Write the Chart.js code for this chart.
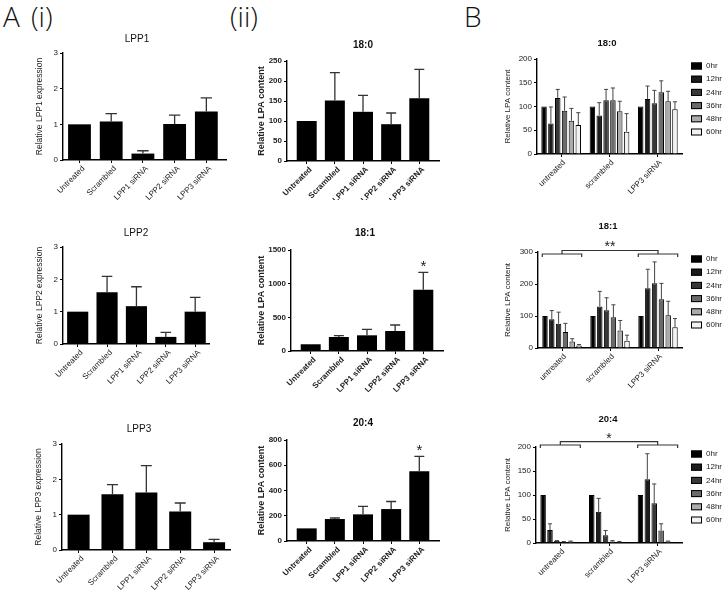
<!DOCTYPE html>
<html><head><meta charset="utf-8">
<script src="https://cdn.jsdelivr.net/npm/chart.js@4.4.1/dist/chart.umd.min.js"></script>
<style>
html,body{margin:0;padding:0;background:#fff;}
#page{position:relative;width:725px;height:592px;overflow:hidden;background:#fff;}
#page canvas{position:absolute;}
.plabel{position:absolute;font-family:"Open Sans",sans-serif;font-size:28px;font-weight:300;color:#111;line-height:28px;white-space:nowrap;}
</style></head><body>
<div id="page">
<div class="plabel" style="left:3px;top:2px">A</div>
<div class="plabel" style="left:31px;top:2px">(i)</div>
<div class="plabel" style="left:230px;top:2px">(ii)</div>
<div class="plabel" style="left:464px;top:2px">B</div>
</div>
<script>
// ---------- data ----------
const groupsA = ['Untreated', 'Scrambled', 'LPP1 siRNA', 'LPP2 siRNA', 'LPP3 siRNA'];
const lpp1Mean = [1.00, 1.08, 0.18, 1.01, 1.36];
const lpp1Sem  = [0, 0.22, 0.08, 0.25, 0.38];
const lpp2Mean = [1.00, 1.60, 1.17, 0.22, 1.00];
const lpp2Sem  = [0, 0.49, 0.60, 0.14, 0.44];
const lpp3Mean = [1.00, 1.58, 1.63, 1.09, 0.22];
const lpp3Sem  = [0, 0.27, 0.76, 0.24, 0.08];

const lpa180Mean = [100, 151, 123, 92, 157];
const lpa180Sem  = [0, 70, 41, 28, 72];
const lpa181Mean = [100, 208, 233, 297, 911];
const lpa181Sem  = [0, 20, 89, 89, 257];
const lpa181Stars = ['', '', '', '', '*'];
const lpa204Mean = [100, 174, 211, 253, 553];
const lpa204Sem  = [0, 8, 63, 60, 118];
const lpa204Stars = ['', '', '', '', '*'];

const groupsB = ['untreated', 'scrambled', 'LPP3 siRNA'];
const timePoints = ['0hr', '12hr', '24hr', '36hr', '48hr', '60hr'];
// rows: time points, columns: groupsB
const b180Mean = [[100,100,100],[64,81,116],[118,113,107],[91,113,130],[70,90,111],[61,47,94]];
const b180Sem  = [[0,0,0],[35,27,27],[18,23,27],[29,26,24],[26,21,21],[26,38,16]];
const b181Mean = [[100,100,100],[90,130,187],[76,118,202],[50,96,152],[20,55,102],[8,23,65]];
const b181Sem  = [[0,0,0],[27,47,59],[36,39,67],[27,39,50],[9,31,44],[3,17,27]];
const b181Sig  = [{from: 0, to: 2, label: '**'}];
const b204Mean = [[100,100,100],[27,65,133],[4,16,83],[2,3,26],[3,2,3],[1,1,1]];
const b204Sem  = [[0,0,0],[13,28,53],[1,10,40],[1,2,14],[1,1,1],[0,0,0]];
const b204Sig  = [{from: 0, to: 2, label: '*'}];

// ---------- styles ----------
const FONT = '"Liberation Sans", Arial, sans-serif';
const timeColors = ['#000000', '#1c1c1c', '#383838', '#6a6a6a', '#ababab', '#f2f2f2'];

function makeDeco(spec, box) {
  const ox = box.x, oy = box.y;
  return {
    id: 'deco',
    afterDraw(chart) {
      const ctx = chart.ctx, ca = chart.chartArea, ys = chart.scales.y;
      ctx.save();
      // error bars
      chart.data.datasets.forEach((ds, di) => {
        const meta = chart.getDatasetMeta(di);
        meta.data.forEach((bar, i) => {
          const s = ds.sem[i];
          if (!s) return;
          const tip = ys.getPixelForValue(ds.mean[i] + s);
          const half = bar.width * spec.capRatio / 2;
          ctx.strokeStyle = spec.errColor;
          ctx.lineWidth = spec.errWidth;
          ctx.beginPath();
          ctx.moveTo(bar.x, bar.y); ctx.lineTo(bar.x, tip);
          ctx.moveTo(bar.x - half, tip); ctx.lineTo(bar.x + half, tip);
          ctx.stroke();
          if (ds.stars && ds.stars[i]) {
            ctx.fillStyle = '#222';
            ctx.font = 'normal 15px ' + FONT;
            ctx.textAlign = 'center'; ctx.textBaseline = 'middle';
            ctx.fillText(ds.stars[i], bar.x, tip - 5);
          }
        });
      });
      // brackets
      if (spec.brackets) {
        const m0 = chart.getDatasetMeta(0), mN = chart.getDatasetMeta(chart.data.datasets.length - 1);
        const ext = g => [m0.data[g].x - m0.data[g].width / 2, mN.data[g].x + mN.data[g].width / 2];
        spec.brackets.forEach(br => {
          const a = ext(br.from), b = ext(br.to);
          const subY = ca.top + spec.bracketSub, topY = ca.top + spec.bracketTop, tk = subY + 3;
          const ac = (a[0] + a[1]) / 2, bc = (b[0] + b[1]) / 2;
          ctx.strokeStyle = '#333'; ctx.lineWidth = 1.2;
          ctx.beginPath();
          ctx.moveTo(a[0], tk); ctx.lineTo(a[0], subY); ctx.lineTo(a[1], subY); ctx.lineTo(a[1], tk);
          ctx.moveTo(b[0], tk); ctx.lineTo(b[0], subY); ctx.lineTo(b[1], subY); ctx.lineTo(b[1], tk);
          ctx.moveTo(ac, subY); ctx.lineTo(ac, topY); ctx.lineTo(bc, topY); ctx.lineTo(bc, subY);
          ctx.stroke();
          ctx.fillStyle = '#222';
          ctx.font = 'normal 14px ' + FONT;
          ctx.textAlign = 'center'; ctx.textBaseline = 'middle';
          ctx.fillText(br.label, (ac + bc) / 2, topY - 3);
        });
      }
      // chart title
      ctx.fillStyle = '#111';
      ctx.font = spec.titleFont + ' ' + FONT;
      ctx.textAlign = 'center'; ctx.textBaseline = 'middle';
      ctx.fillText(spec.title.text, spec.title.x - ox, spec.title.y - oy);
      // y axis title
      ctx.save();
      ctx.translate(spec.ytitle.x - ox, (ca.top + ca.bottom) / 2);
      ctx.rotate(-Math.PI / 2);
      ctx.font = spec.ytitleFont + ' ' + FONT;
      ctx.fillStyle = '#222';
      ctx.fillText(spec.ytitle.text, 0, 0);
      ctx.restore();
      // legend
      if (spec.legend) {
        const L = spec.legend;
        chart.data.datasets.forEach((ds, di) => {
          const cy = L.y0 + di * L.dy - oy;
          ctx.fillStyle = ds.backgroundColor;
          ctx.fillRect(L.x - ox, cy - 3.5, 11, 7);
          ctx.strokeStyle = '#000'; ctx.lineWidth = 1;
          ctx.strokeRect(L.x - ox + 0.5, cy - 3.5 + 0.5, 10, 6);
          ctx.fillStyle = '#222';
          ctx.font = 'normal 8px ' + FONT;
          ctx.textAlign = 'left'; ctx.textBaseline = 'middle';
          ctx.fillText(ds.label, L.x - ox + 15, cy);
        });
      }
      ctx.restore();
    }
  };
}

function build(spec) {
  const b = spec.box, a = spec.area;
  const c = document.createElement('canvas');
  c.width = b.w; c.height = b.h;
  c.style.left = b.x + 'px'; c.style.top = b.y + 'px';
  c.style.width = b.w + 'px'; c.style.height = b.h + 'px';
  document.getElementById('page').appendChild(c);
  const yw = a.l - b.x, pr = b.x + b.w - a.r, pt = a.t - b.y, xh = b.y + b.h - a.b;
  const weight = spec.bold ? 'bold' : 'normal';
  const tickFont = {family: FONT, size: 8, weight: weight};
  const gridCfg = {drawOnChartArea: false, drawTicks: true, tickLength: 3, color: '#000', lineWidth: 1};
  const borderCfg = {display: true, color: '#000', width: 1.4};
  let xScale, data;
  if (spec.linear) {
    xScale = {
      type: 'linear', min: spec.xmin, max: spec.xmax, offset: false,
      afterBuildTicks: s => { s.ticks = spec.labels.map((_, i) => ({value: i})); },
      afterFit: s => { s.height = xh; },
      ticks: {callback: v => spec.labels[v] ?? '', maxRotation: 45, minRotation: 45, autoSkip: false,
              padding: 1, labelOffset: 4, font: tickFont, color: '#222'},
      grid: Object.assign({offset: false}, gridCfg), border: borderCfg
    };
    data = {datasets: [{
      data: spec.mean.map((v, i) => ({x: i, y: v})), mean: spec.mean, sem: spec.sem, stars: spec.stars,
      backgroundColor: '#000', borderWidth: 0, barPercentage: spec.barPct, categoryPercentage: 1
    }]};
  } else {
    xScale = {
      type: 'category', offset: true,
      afterFit: s => { s.height = xh; },
      ticks: {maxRotation: 45, minRotation: 45, autoSkip: false, padding: 1, labelOffset: 3, font: tickFont, color: '#222'},
      grid: Object.assign({offset: false}, gridCfg), border: borderCfg
    };
    data = {labels: spec.labels, datasets: timePoints.map((t, k) => ({
      label: t, data: spec.mean[k], mean: spec.mean[k], sem: spec.sem[k],
      backgroundColor: timeColors[k], borderColor: '#000', borderWidth: 1, borderSkipped: 'bottom',
      barPercentage: 0.8, categoryPercentage: 0.85
    }))};
  }
  new Chart(c, {
    type: 'bar',
    data: data,
    options: {
      responsive: false, animation: false, devicePixelRatio: 1,
      layout: {padding: {top: pt, right: pr, left: 0, bottom: 0}},
      plugins: {legend: {display: false}, tooltip: {enabled: false}, title: {display: false}},
      scales: {
        x: xScale,
        y: {min: 0, max: spec.ymax, afterFit: s => { s.width = yw; },
            ticks: {stepSize: spec.ystep, font: tickFont, color: '#222', padding: 2, callback: v => String(v)},
            grid: gridCfg, border: borderCfg}
      }
    },
    plugins: [makeDeco(spec.deco, b)]
  });
}

const decoA = (title, tx, ty, ytitle, yx) => ({
  capRatio: 0.5, errColor: '#333', errWidth: 1.3,
  title: {text: title, x: tx, y: ty}, titleFont: 'normal 10px',
  ytitle: {text: ytitle, x: yx}, ytitleFont: 'normal 8.5px'
});
const decoA2 = (title, tx, ty) => ({
  capRatio: 0.5, errColor: '#333', errWidth: 1.3,
  title: {text: title, x: tx, y: ty}, titleFont: 'bold 10px',
  ytitle: {text: 'Relative LPA content', x: 262}, ytitleFont: 'bold 9px'
});
const decoB = (title, tx, ty, y0, extra) => Object.assign({
  capRatio: 0.75, errColor: '#444', errWidth: 1,
  title: {text: title, x: tx, y: ty}, titleFont: 'bold 9.5px',
  ytitle: {text: 'Relative LPA content', x: 508}, ytitleFont: 'normal 8px',
  legend: {x: 691, y0: y0, dy: 13.2}
}, extra || {});

// A (i)
build({box: {x: 0, y: 28, w: 240, h: 172}, area: {l: 63, r: 226, t: 53, b: 160}, linear: true, labels: groupsA,
  xmin: -0.52, xmax: 4.62, ymax: 3, ystep: 1, mean: lpp1Mean, sem: lpp1Sem, barPct: 0.72,
  deco: decoA('LPP1', 137, 39, 'Relative LPP1 expression', 40)});
build({box: {x: 0, y: 220, w: 240, h: 172}, area: {l: 63, r: 209, t: 247, b: 344}, linear: true, labels: groupsA,
  xmin: -0.5, xmax: 4.47, ymax: 3, ystep: 1, mean: lpp2Mean, sem: lpp2Sem, barPct: 0.72,
  deco: decoA('LPP2', 136, 233, 'Relative LPP2 expression', 40)});
build({box: {x: 0, y: 416, w: 240, h: 176}, area: {l: 62, r: 230, t: 444, b: 550}, linear: true, labels: groupsA,
  xmin: -0.49, xmax: 4.47, ymax: 3, ystep: 1, mean: lpp3Mean, sem: lpp3Sem, barPct: 0.65,
  deco: decoA('LPP3', 139, 429, 'Relative LPP3 expression', 39)});
// A (ii)
build({box: {x: 240, y: 28, w: 215, h: 172}, area: {l: 287, r: 439, t: 61, b: 161}, linear: true, labels: groupsA, bold: true,
  xmin: -0.7, xmax: 4.7, ymax: 250, ystep: 50, mean: lpa180Mean, sem: lpa180Sem, barPct: 0.71,
  deco: decoA2('18:0', 363, 45)});
build({box: {x: 240, y: 220, w: 215, h: 172}, area: {l: 291, r: 443, t: 250, b: 351}, linear: true, labels: groupsA, bold: true,
  xmin: -0.7, xmax: 4.7, ymax: 1500, ystep: 500, mean: lpa181Mean, sem: lpa181Sem, stars: lpa181Stars, barPct: 0.71,
  deco: decoA2('18:1', 365, 233)});
build({box: {x: 240, y: 416, w: 215, h: 176}, area: {l: 287, r: 439, t: 440, b: 541}, linear: true, labels: groupsA, bold: true,
  xmin: -0.7, xmax: 4.7, ymax: 800, ystep: 200, mean: lpa204Mean, sem: lpa204Sem, stars: lpa204Stars, barPct: 0.71,
  deco: decoA2('20:4', 363, 423)});
// B
build({box: {x: 455, y: 28, w: 270, h: 175}, area: {l: 537, r: 682, t: 59, b: 154}, linear: false, labels: groupsB,
  ymax: 200, ystep: 50, mean: b180Mean, sem: b180Sem,
  deco: decoB('18:0', 607, 43, 66)});
build({box: {x: 455, y: 205, w: 270, h: 190}, area: {l: 538, r: 682, t: 252, b: 348}, linear: false, labels: groupsB,
  ymax: 300, ystep: 100, mean: b181Mean, sem: b181Sem,
  deco: decoB('18:1', 608, 226, 259, {brackets: b181Sig, bracketSub: 2, bracketTop: -1.5})});
build({box: {x: 455, y: 400, w: 270, h: 192}, area: {l: 536, r: 682, t: 447, b: 543}, linear: false, labels: groupsB,
  ymax: 200, ystep: 50, mean: b204Mean, sem: b204Sem,
  deco: decoB('20:4', 608, 419, 454, {brackets: b204Sig, bracketSub: -2, bracketTop: -5.3})});
</script>
</body></html>
